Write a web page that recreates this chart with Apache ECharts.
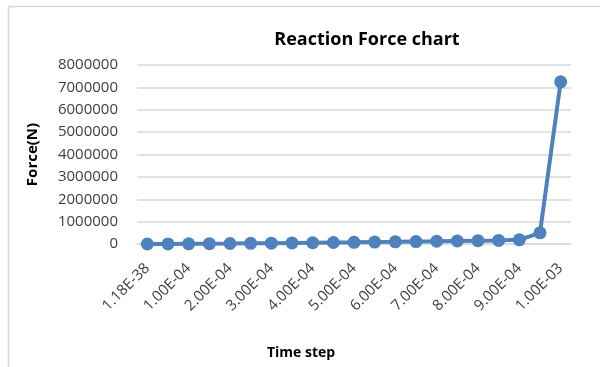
<!DOCTYPE html>
<html>
<head>
<meta charset="utf-8">
<script src="https://cdn.jsdelivr.net/npm/echarts@6/dist/echarts.min.js"></script>
<style>
  html, body { margin: 0; padding: 0; background: #ffffff; }
  #chart { width: 600px; height: 367px; }
</style>
</head>
<body>
<div id="chart"></div>
<script>
// Time steps (s) along the horizontal axis
const timeSteps = [
  '1.18E-38', '5.00E-05', '1.00E-04', '1.50E-04', '2.00E-04', '2.50E-04',
  '3.00E-04', '3.50E-04', '4.00E-04', '4.50E-04', '5.00E-04', '5.50E-04',
  '6.00E-04', '6.50E-04', '7.00E-04', '7.50E-04', '8.00E-04', '8.50E-04',
  '9.00E-04', '9.50E-04', '1.00E-03'
];

// Reaction force (N) at each time step
const reactionForce = [
  0, 4000, 9000, 15000, 22000, 30000, 38000, 47000, 56000, 66000,
  76000, 87000, 98000, 110000, 122000, 135000, 148000, 162000, 185000,
  500000, 7250000
];

// Vertical axis ticks
const forceMin = 0;
const forceMax = 8000000;
const forceStep = 1000000;

const FONT = '"Open Sans", "Liberation Sans", sans-serif';
const GRID_GRAY = '#d9d9d9';
const TEXT = '#404040';

const chart = echarts.init(document.getElementById('chart'), null, { renderer: 'canvas' });

chart.setOption({
  backgroundColor: '#ffffff',
  animation: false,
  graphic: [{
    type: 'rect',
    shape: { x: 8.5, y: 6.5, width: 700, height: 500 },
    style: { fill: 'none', stroke: GRID_GRAY, lineWidth: 1.5 },
    silent: true
  }],
  title: [{
    text: 'Reaction Force chart',
    left: 362,
    top: 26,
    textAlign: 'center',
    textStyle: { fontFamily: FONT, fontSize: 18, fontWeight: 'bold', color: '#000000' }
  }, {
    text: 'Time step',
    left: 296,
    top: 341,
    textAlign: 'center',
    textStyle: { fontFamily: FONT, fontSize: 14, fontWeight: 'bold', color: '#000000' }
  }],
  grid: { left: 137, right: 29, top: 65, bottom: 123, containLabel: false },
  xAxis: {
    type: 'category',
    data: timeSteps,
    boundaryGap: true,
    axisLine: { show: true, lineStyle: { color: GRID_GRAY, width: 1.5 } },
    axisTick: { show: false },
    axisLabel: {
      interval: 1,
      rotate: 45,
      margin: 22,
      fontFamily: FONT,
      fontSize: 15,
      color: TEXT
    },
    splitLine: { show: false }
  },
  yAxis: {
    type: 'value',
    min: forceMin,
    max: forceMax,
    interval: forceStep,
    name: 'Force(N)',
    nameLocation: 'middle',
    nameRotate: 90,
    nameGap: 97,
    nameTextStyle: { fontFamily: FONT, fontSize: 15, fontWeight: 'bold', color: '#000000' },
    axisLine: { show: false },
    axisTick: { show: false },
    axisLabel: {
      margin: 19,
      fontFamily: FONT,
      fontSize: 15,
      color: TEXT,
      formatter: (v) => String(v)
    },
    splitLine: { show: true, lineStyle: { color: GRID_GRAY, width: 1.5 } }
  },
  series: [{
    type: 'line',
    data: reactionForce,
    symbol: 'circle',
    symbolSize: 13,
    lineStyle: { color: '#4f81bd', width: 4 },
    itemStyle: { color: '#4f81bd' },
    z: 3
  }]
});
</script>
</body>
</html>
